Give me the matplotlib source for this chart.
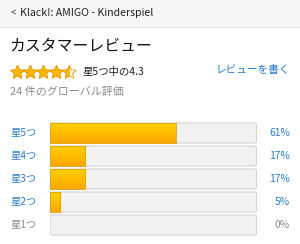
import numpy as np
import matplotlib
matplotlib.use("Agg")
import matplotlib.pyplot as plt
from matplotlib.patches import FancyBboxPatch, Rectangle, Polygon
from matplotlib.transforms import blended_transform_factory

plt.rcParams['font.family'] = ['Noto Sans CJK JP', 'DejaVu Sans']

# data
product = "Klack!: AMIGO - Kinderspiel"
rating = 4.3
n_ratings = 24
star_labels = ["星5つ", "星4つ", "星3つ", "星2つ", "星1つ"]
percents = [61, 17, 17, 5, 0]

BLUE = "#2a7ccc"
GRAY = "#8a8a8a"

fig = plt.figure(figsize=(3.0, 2.44), dpi=100)
ax = fig.add_axes([0, 0, 1, 1])
ax.set_xlim(0, 300)
ax.set_ylim(244, 0)
ax.axis("off")

# header bar
ax.add_patch(Rectangle((0, 0), 300, 27, facecolor="#f6f6f6", edgecolor="none"))
ax.plot([0, 300], [27, 27], color="#e6e6e6", lw=0.8)
ax.text(11, 13, "<", fontsize=7, color="#444", va="center")
ax.text(20, 13, product, fontsize=7.6, color="#222", va="center")

ax.text(9, 46, "カスタマーレビュー", fontsize=11.4, color="#111", va="center")


def star(cx, cy, r):
    ang = np.pi / 2 + np.arange(10) * np.pi / 5
    rad = np.where(np.arange(10) % 2 == 0, r, r * 0.45)
    return np.column_stack([cx + rad * np.cos(ang), cy - rad * np.sin(ang)])


shown = round(rating * 2) / 2
for k in range(5):
    pts = star(17.5 + k * 13, 72.5, 7.2)
    fill = min(max(shown - k, 0), 1)
    ax.add_patch(Polygon(pts, closed=True, facecolor="white", edgecolor="#e79b0b", lw=0.6))
    if fill > 0:
        p = Polygon(pts, closed=True, facecolor="#ffb800", edgecolor="#e79b0b", lw=0.6)
        ax.add_patch(p)
        clip = Rectangle((17.5 + k * 13 - 7.5, 60), 15 * fill, 25, transform=ax.transData)
        p.set_clip_path(clip)

ax.text(82, 72, f"星5つ中の{rating}", fontsize=7.5, color="#222", va="center")
ax.text(290, 70, "レビューを書く", fontsize=7.7, color=BLUE, va="center", ha="right")
ax.text(10, 92, f"{n_ratings} 件のグローバル評価", fontsize=7.9, color=GRAY, va="center")

# bars
bx = fig.add_axes([50 / 300, 1 - 236.5 / 244, 206.5 / 300, 115 / 244])
bx.set_xlim(0, 100)
bx.set_ylim(len(percents) - 0.5, -0.5)
bx.axis("off")
h = 20 / 23
grad = np.linspace(0, 1, 64).reshape(-1, 1)
cmap = matplotlib.colors.LinearSegmentedColormap.from_list("g", ["#ffd000", "#ffa800"])
for i, p in enumerate(percents):
    bx.add_patch(FancyBboxPatch((0, i - h / 2), 100, h, boxstyle="round,pad=0,rounding_size=0.9",
                                facecolor="#f2f2f2", edgecolor="#d3d3d3", lw=0.8,
                                mutation_aspect=0.09))
    if p > 0:
        bar = bx.barh(i, p, height=h, color="none", edgecolor="#e2a000", lw=0.6)[0]
        im = bx.imshow(grad, extent=(0, p, i + h / 2, i - h / 2), cmap=cmap,
                       aspect="auto", zorder=1)
        im.set_clip_path(bar)
        bar.set_zorder(2)
bx.set_xlim(0, 100)
bx.set_ylim(len(percents) - 0.5, -0.5)

tr = blended_transform_factory(ax.transData, bx.transData)
for i, (lab, p) in enumerate(zip(star_labels, percents)):
    c = BLUE if p > 0 else GRAY
    ax.text(10, i, lab, transform=tr, fontsize=7.4, color=c, va="center")
    ax.text(290, i, f"{p}%", transform=tr, fontsize=7.4, color=c, va="center", ha="right")

fig.savefig("out.png", dpi=100)
